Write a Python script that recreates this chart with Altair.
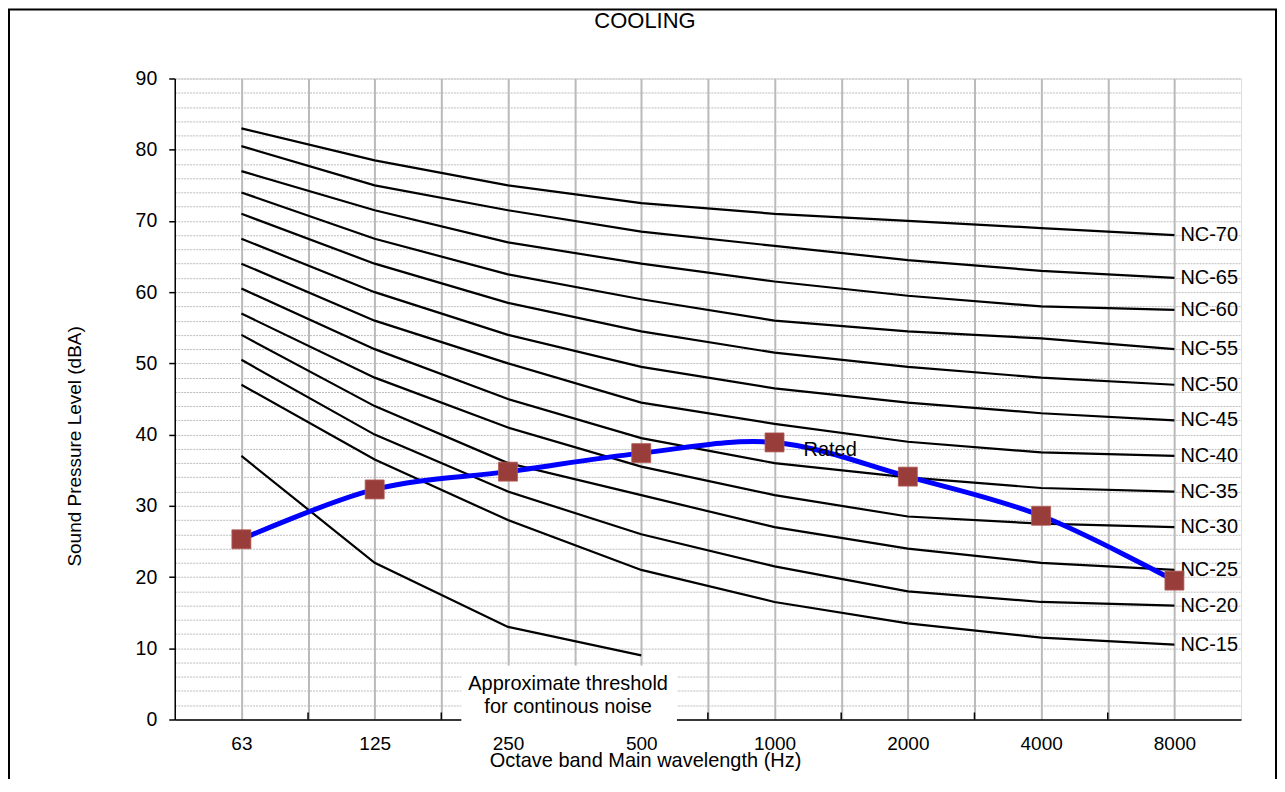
import json
import altair as alt
import pandas as pd

# ---------------- data ----------------
freqs = ["63", "125", "250", "500", "1000", "2000", "4000", "8000"]
nc_names = ["NC-70", "NC-65", "NC-60", "NC-55", "NC-50", "NC-45",
            "NC-40", "NC-35", "NC-30", "NC-25", "NC-20", "NC-15"]
nc70 = [83, 78.5, 75, 72.5, 71, 70, 69, 68]
nc65 = [80.5, 75, 71.5, 68.5, 66.5, 64.5, 63, 62]
nc60 = [77, 71.5, 67, 64, 61.5, 59.5, 58, 57.5]
nc55 = [74, 67.5, 62.5, 59, 56, 54.5, 53.5, 52]
nc50 = [71, 64, 58.5, 54.5, 51.5, 49.5, 48, 47]
nc45 = [67.5, 60, 54, 49.5, 46.5, 44.5, 43, 42]
nc40 = [64, 56, 50, 44.5, 41.5, 39, 37.5, 37]
nc35 = [60.5, 52, 45, 39.5, 36, 34, 32.5, 32]
nc30 = [57, 48, 41, 35.5, 31.5, 28.5, 27.5, 27]
nc25 = [54, 44, 36, 31.5, 27, 24, 22, 21]
nc20 = [50.5, 40, 32, 26, 21.5, 18, 16.5, 16]
nc15 = [47, 36.5, 28, 21, 16.5, 13.5, 11.5, 10.5]
threshold = [37, 22, 13, 9]
rated = [25.3, 32.3, 34.8, 37.4, 38.9, 34.1, 28.6, 19.5]

nc_series = [nc70, nc65, nc60, nc55, nc50, nc45, nc40, nc35, nc30, nc25, nc20, nc15]

rows = []
for name, vals in zip(nc_names, nc_series):
    for i, v in enumerate(vals):
        rows.append({"curve": name, "i": i, "v": v})
for i, v in enumerate(threshold):
    rows.append({"curve": "threshold", "i": i, "v": v})
df_lines = pd.DataFrame(rows)

df_labels = pd.DataFrame({"name": nc_names,
                          "i": [len(s) - 1 for s in nc_series],
                          "v": [s[-1] for s in nc_series]})
df_rated = pd.DataFrame({"i": list(range(len(rated))), "v": rated})
df_bounds = pd.DataFrame({"i": [k + 0.5 for k in range(len(freqs) - 1)], "v": [0] * (len(freqs) - 1)})

# ---------------- layout ----------------
W, H = 1068, 642
FONT = "Liberation Sans"

xscale = alt.Scale(domain=[-0.5, len(freqs) - 0.5], nice=False, zero=False)
yscale = alt.Scale(domain=[0, 90], nice=False, zero=False)

label_expr = "datum.value % 1 === 0 ? " + json.dumps(freqs) + "[datum.value] : ''"

xaxis = alt.Axis(
    values=[k * 0.5 for k in range(2 * len(freqs) - 1)],
    labelExpr=label_expr,
    grid=True, gridColor="#bababa", gridWidth=2,
    ticks=False,
    domainColor="black", domainWidth=1.5,
    labelFont=FONT, labelFontSize=19, labelColor="black", labelPadding=15,
    labelOverlap=False, labelFlush=False,
    title="Octave band Main wavelength (Hz)",
    titleFont=FONT, titleFontSize=20, titleFontWeight="normal", titleColor="black",
    titleX=471, titleY=46.7, titleBaseline="alphabetic", titleAlign="center",
)

yaxis = alt.Axis(
    values=list(range(0, 91, 2)),
    labelExpr="datum.value % 10 === 0 ? datum.label : ''",
    grid=True, gridColor="#bdbdbd", gridDash=[2, 1], gridWidth=1,
    tickSize=6, tickColor="black", tickWidth=1.5,
    tickOpacity={"condition": {"test": "datum.value % 10 === 0", "value": 1}, "value": 0},
    domainColor="black", domainWidth=1.5,
    labelFont=FONT, labelFontSize=19.5, labelColor="black", labelPadding=12,
    labelOverlap=False,
    title="Sound Pressure Level (dBA)",
    titleFont=FONT, titleFontSize=19, titleFontWeight="normal", titleColor="black",
    titleX=-100, titleY=368, titleAngle=270, titleBaseline="middle", titleAlign="center",
)


def X():
    return alt.X("i:Q", scale=xscale, axis=xaxis)


def Y():
    return alt.Y("v:Q", scale=yscale, axis=yaxis)


nc_lines = alt.Chart(df_lines).mark_line(color="black", strokeWidth=2.2).encode(
    x=X(), y=Y(), detail="curve:N",
)

nc_text = alt.Chart(df_labels).mark_text(
    align="left", baseline="middle", dx=6, fontSize=20, font=FONT, color="black"
).encode(x=X(), y=Y(), text="name:N")

x_ticks = alt.Chart(df_bounds).mark_rule(color="black", strokeWidth=1.5).encode(
    x=X(),
    y=alt.value(H - 7),
    y2=alt.value(H),
)

white_box = alt.Chart(pd.DataFrame({"k": [0]})).mark_rect(fill="white").encode(
    x=alt.value(287), x2=alt.value(503), y=alt.value(588), y2=alt.value(646)
)

box_text = alt.Chart(pd.DataFrame({"t": ["Approximate threshold\nfor continous noise"]})).mark_text(
    align="center", baseline="alphabetic", lineBreak="\n", lineHeight=23,
    fontSize=20, font=FONT, color="black"
).encode(x=alt.value(394), y=alt.value(612.7), text="t:N")

rated_line = alt.Chart(df_rated).mark_line(
    color="#0000ff", strokeWidth=5, interpolate="cardinal", tension=0
).encode(x=X(), y=Y())

rated_pts = alt.Chart(df_rated).mark_square(
    size=361, color="#993d3a", opacity=1, stroke="#b35a57", strokeWidth=0.8
).encode(x=X(), y=Y())

rated_lbl = alt.Chart(pd.DataFrame({"i": [4], "v": [rated[4]], "t": ["Rated"]})).mark_text(
    align="left", baseline="alphabetic", dx=29, dy=14, fontSize=20, font=FONT, color="black"
).encode(x=X(), y=Y(), text="t:N")

title_txt = alt.Chart(pd.DataFrame({"t": ["COOLING"]})).mark_text(
    align="center", baseline="middle", fontSize=22, font=FONT, color="black"
).encode(x=alt.value(471), y=alt.value(-58), text="t:N")

frame = alt.Chart(pd.DataFrame({"k": [0]})).mark_rect(
    fillOpacity=0, stroke="black", strokeWidth=2
).encode(x=alt.value(-166), x2=alt.value(1103), y=alt.value(-69), y2=alt.value(740))

chart = alt.layer(
    nc_lines, nc_text, x_ticks, white_box, box_text,
    rated_line, rated_pts, rated_lbl, title_txt, frame
).properties(
    width=W, height=H,
    padding={"left": 167, "top": 70, "right": 36, "bottom": 59},
    autosize=alt.AutoSizeParams(type="none"),
    background="white",
).configure_view(
    stroke="#707070", strokeWidth=1.5
).configure(font=FONT)

chart.save("out.html", embed_options={"renderer": "svg", "actions": False})
